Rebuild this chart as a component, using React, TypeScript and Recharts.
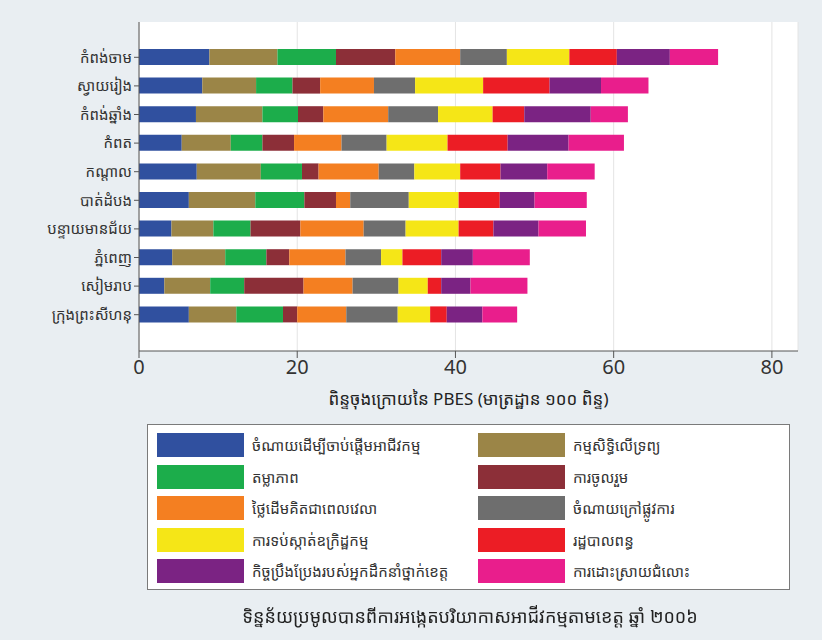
import { BarChart, Bar, XAxis, YAxis, CartesianGrid } from "recharts";

const FONT = '"Noto Sans Khmer", "Khmer OS", "Noto Sans", "DejaVu Sans", sans-serif';

const provinces = [
  "កំពង់ចាម",
  "ស្វាយរៀង",
  "កំពង់ឆ្នាំង",
  "កំពត",
  "កណ្តាល",
  "បាត់ដំបង",
  "បន្ទាយមានជ័យ",
  "ភ្នំពេញ",
  "សៀមរាប",
  "ក្រុងព្រះសីហនុ",
];

// one array per sub-index, same order as provinces
const startupCost = [8.9, 8.0, 7.2, 5.4, 7.3, 6.3, 4.1, 4.2, 3.2, 6.3];
const landAccess = [8.6, 6.8, 8.4, 6.2, 8.1, 8.4, 5.3, 6.7, 5.8, 6.0];
const transparency = [7.4, 4.6, 4.5, 4.0, 5.2, 6.2, 4.7, 5.2, 4.3, 5.9];
const participation = [7.5, 3.5, 3.2, 4.0, 2.1, 4.0, 6.3, 2.9, 7.5, 1.8];
const timeCost = [8.2, 6.8, 8.2, 6.0, 7.6, 1.8, 8.0, 7.1, 6.2, 6.2];
const informalCharges = [5.9, 5.2, 6.3, 5.7, 4.5, 7.4, 5.3, 4.5, 5.8, 6.5];
const crimePrevention = [7.9, 8.6, 6.9, 7.7, 5.8, 6.3, 6.7, 2.7, 3.7, 4.1];
const taxAdmin = [6.0, 8.4, 4.0, 7.6, 5.1, 5.2, 4.4, 4.9, 1.7, 2.1];
const leadership = [6.7, 6.5, 8.4, 7.7, 5.9, 4.4, 5.7, 4.0, 3.7, 4.5];
const disputes = [6.1, 6.0, 4.7, 7.0, 6.0, 6.6, 6.0, 7.2, 7.2, 4.4];

const SERIES = [
  { key: "startupCost", label: "ចំណាយដើម្បីចាប់ផ្តើមអាជីវកម្ម", color: "#30509f", values: startupCost },
  { key: "landAccess", label: "កម្មសិទ្ធិលើទ្រព្យ", color: "#9b8547", values: landAccess },
  { key: "transparency", label: "តម្លាភាព", color: "#1cad4b", values: transparency },
  { key: "participation", label: "ការចូលរួម", color: "#8c2f38", values: participation },
  { key: "timeCost", label: "ថ្លៃដើមគិតជាពេលវេលា", color: "#f47f21", values: timeCost },
  { key: "informalCharges", label: "ចំណាយក្រៅផ្លូវការ", color: "#6e6e6e", values: informalCharges },
  { key: "crimePrevention", label: "ការទប់ស្កាត់ឧក្រិដ្ឋកម្ម", color: "#f5e617", values: crimePrevention },
  { key: "taxAdmin", label: "រដ្ឋបាលពន្ធ", color: "#ec1d25", values: taxAdmin },
  { key: "leadership", label: "កិច្ចប្រឹងប្រែងរបស់អ្នកដឹកនាំថ្នាក់ខេត្ត", color: "#7b2383", values: leadership },
  { key: "disputes", label: "ការដោះស្រាយជំលោះ", color: "#e91e8c", values: disputes },
];

const data = provinces.map((name, i) => {
  const row: Record<string, string | number> = { name };
  for (const s of SERIES) row[s.key] = s.values[i];
  return row;
});

export default function App() {
  return (
    <div
      style={{
        position: "fixed",
        left: 0,
        top: 0,
        width: 822,
        height: 640,
        background: "#e9eef2",
        fontFamily: FONT,
      }}
    >
      <BarChart
        width={822}
        height={410}
        data={data}
        layout="vertical"
        margin={{ top: 22, right: 24, left: 0, bottom: 0 }}
        barCategoryGap={0}
      >
        <CartesianGrid horizontal={false} stroke="#e4e4e4" fill="#ffffff" />
        <XAxis
          type="number"
          domain={[0, 83.3]}
          ticks={[0, 20, 40, 60, 80]}
          height={59}
          tickSize={7}
          tick={{ fontSize: 20, fill: "#333", fontFamily: FONT }}
          stroke="#555"
          label={{
            value: "ពិន្ទុចុងក្រោយនៃ PBES (មាត្រដ្ឋាន ១០០ ពិន្ទុ)",
            position: "insideBottom",
            offset: 5,
            fontSize: 17,
            fill: "#222",
            fontFamily: FONT,
          }}
        />
        <YAxis
          type="category"
          dataKey="name"
          width={139}
          tickSize={5}
          padding={{ top: 21, bottom: 22 }}
          tick={{ fontSize: 15, fill: "#333", fontFamily: FONT }}
          stroke="#555"
        />
        {SERIES.map((s) => (
          <Bar
            key={s.key}
            dataKey={s.key}
            stackId="a"
            fill={s.color}
            barSize={16}
            isAnimationActive={false}
          />
        ))}
      </BarChart>

      {/* legend box */}
      <div
        style={{
          position: "absolute",
          left: 147,
          top: 424,
          width: 641,
          height: 164,
          background: "#fff",
          border: "1px solid #7a7a7a",
        }}
      >
        {SERIES.map((s, i) => (
          <div
            key={s.key}
            style={{
              position: "absolute",
              left: i % 2 === 0 ? 9 : 330,
              top: 8 + Math.floor(i / 2) * 31.5,
              height: 24,
              display: "flex",
              alignItems: "center",
              gap: 8,
            }}
          >
            <span style={{ width: 87, height: 24, background: s.color, display: "inline-block" }} />
            <span style={{ fontSize: 15, color: "#333", whiteSpace: "nowrap" }}>{s.label}</span>
          </div>
        ))}
      </div>

      <div
        style={{
          position: "absolute",
          left: 0,
          width: 940,
          top: 604,
          textAlign: "center",
          fontSize: 18,
          color: "#222",
        }}
      >
        ទិន្នន័យប្រមូលបានពីការអង្កេតបរិយាកាសអាជីវកម្មតាមខេត្ត ឆ្នាំ ២០០៦
      </div>
    </div>
  );
}
